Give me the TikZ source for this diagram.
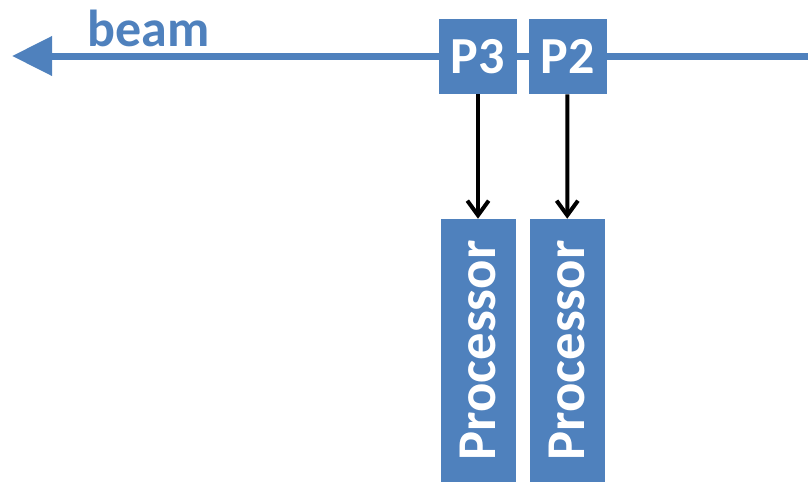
\documentclass[tikz,border=0pt]{standalone}
\usepackage{fontspec}
\setmainfont{Carlito}
\usetikzlibrary{positioning,arrows.meta}
\definecolor{boxblue}{HTML}{4F81BD}

\begin{document}
\begin{tikzpicture}[x=0.75pt,y=-0.75pt,
  big/.style = {font=\fontsize{39}{45}\selectfont\bfseries},
  pkt/.style = {big, fill=boxblue, text=white, inner sep=0pt, minimum width=58.5pt, minimum height=56.25pt},
  proc/.style = {font=\fontsize{41}{47}\selectfont\bfseries, fill=boxblue, text=white, inner sep=0pt, rotate=90, minimum width=197.25pt, minimum height=56.25pt},
  link/.style = {draw, line width=3pt, -{Straight Barb[length=11pt,width=16pt]}}]
  \useasboundingbox (0,0) rectangle (808,482);
  \coordinate (in) at (808,56);
  \coordinate (out) at (12,56);
  \draw[boxblue, line width=5.25pt, -{Triangle[length=30pt,width=28.5pt]}] (in) -- (out);
  \node[big, text=boxblue, anchor=base] (beam) at (148.5,46) {beam};
  \node[pkt] (p3) at (478,56.5) {P3};
  \node[pkt] (p2) [right=8.25pt of p3] {P2};
  \node[proc] (proc3) at (478,350.5) {Processor};
  \node[proc] (proc2) at (567,350.5) {Processor};
  \draw[link] (p3) -- (proc3);
  \draw[link] (p2) -- (proc2);
\end{tikzpicture}
\end{document}
